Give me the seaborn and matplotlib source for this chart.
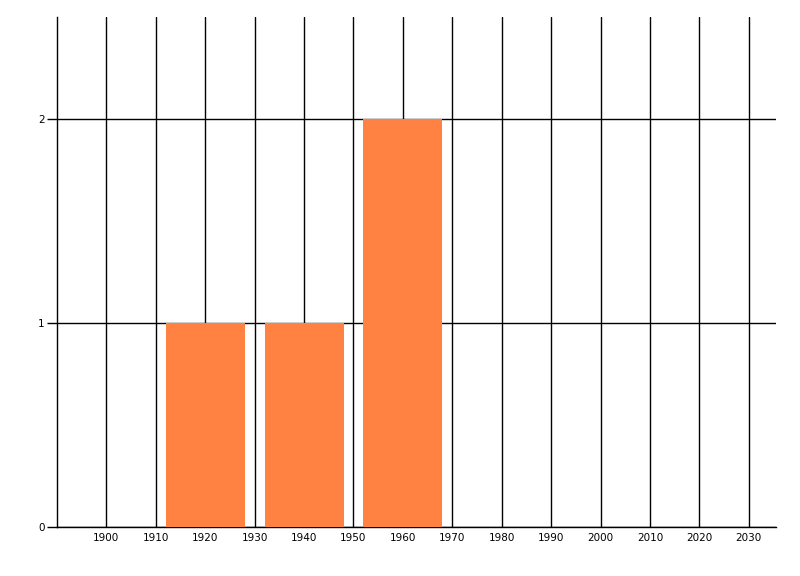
import seaborn as sns
import matplotlib.pyplot as plt
import numpy as np

# decade bins (centre year) and counts
years = [1920, 1940, 1960]
counts = [1, 1, 2]
xticks = list(range(1900, 2031, 10))
yticks = [0, 1, 2]

sns.set_style("white")
plt.rcParams['font.family'] = ['DejaVu Sans']

fig = plt.figure(figsize=(8, 5.76), dpi=100)
ax = fig.add_axes([57/800, 1-527/576, (776-57)/800, (527-17)/576])

sns.barplot(x=years, y=counts, native_scale=True, width=0.8, color="#FF8243",
            saturation=1, linewidth=0, edgecolor="none", ax=ax, zorder=3)

ax.set_xlim(1890, 2035.5)
ax.set_ylim(0, 2.5)
ax.set_xticks(xticks)
ax.set_xticklabels([str(t) for t in xticks], fontsize=7.5, color='black')
ax.set_yticks(yticks)
ax.set_yticklabels([str(t) for t in yticks], fontsize=7.5, color='black')
ax.tick_params(axis='x', bottom=False, length=0, pad=4)
ax.tick_params(axis='y', left=True, length=7, width=1, color='black', pad=2)
ax.grid(True, color='black', linewidth=1)
ax.set_axisbelow(True)
for s in ['top', 'right']:
    ax.spines[s].set_visible(False)
for s in ['left', 'bottom']:
    ax.spines[s].set_color('black')
    ax.spines[s].set_linewidth(1)
ax.set_xlabel("")
ax.set_ylabel("")

fig.savefig("out.png", dpi=100)
